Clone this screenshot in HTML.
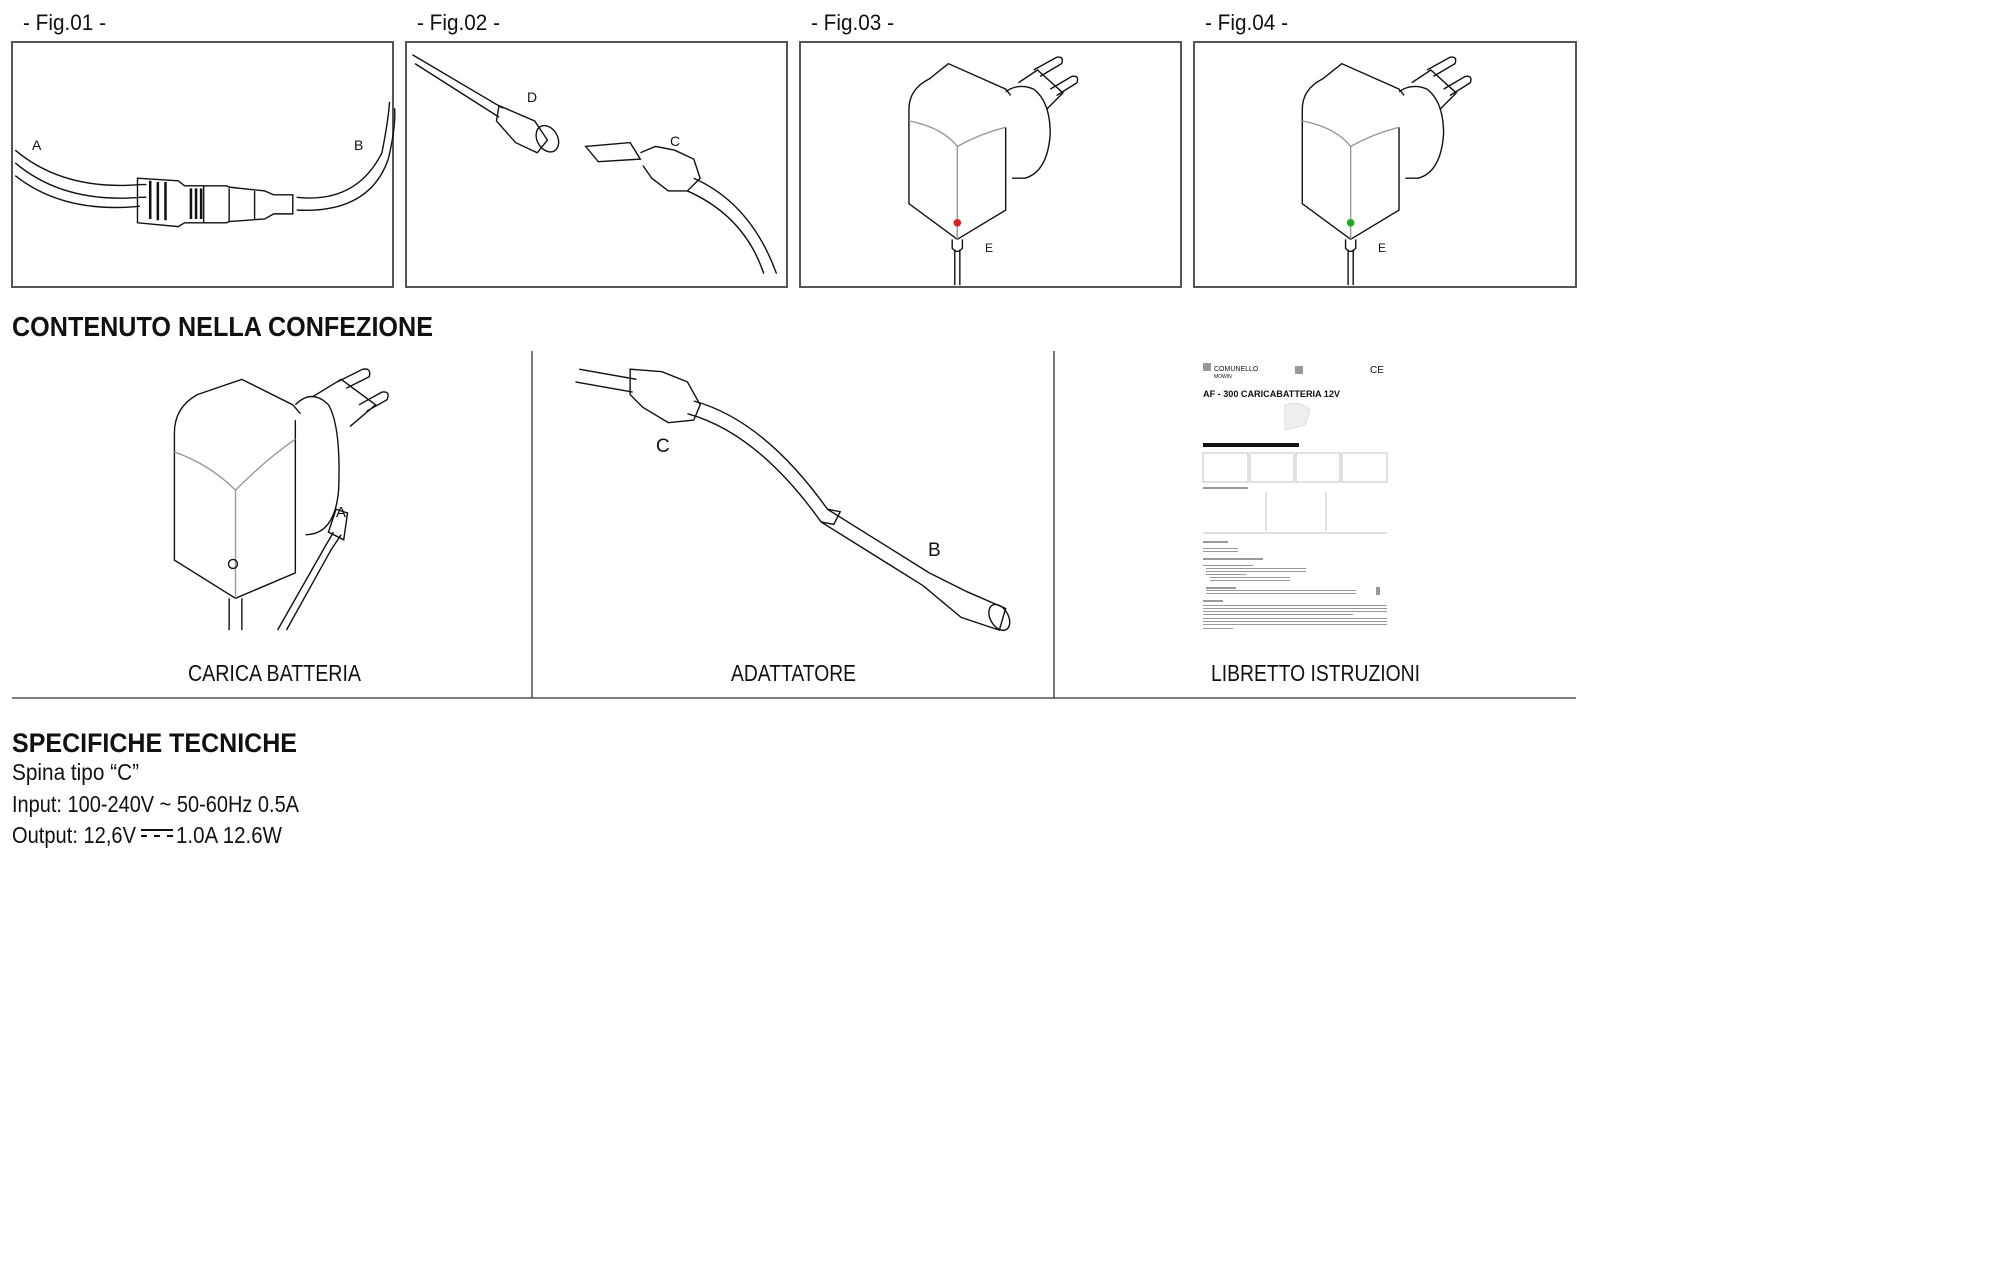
<!DOCTYPE html>
<html><head><meta charset="utf-8"><style>
html,body{margin:0;padding:0;background:#fff;width:1996px;height:1267px;overflow:hidden}
svg{display:block}
text{font-family:"Liberation Sans Narrow","Liberation Sans",sans-serif;fill:#111}
</style></head><body>
<svg width="1996" height="1267" viewBox="0 0 1996 1267" xmlns="http://www.w3.org/2000/svg">
<text x="23" y="30" font-size="22" textLength="83" lengthAdjust="spacingAndGlyphs">- Fig.01 -</text>
<text x="417" y="30" font-size="22" textLength="83" lengthAdjust="spacingAndGlyphs">- Fig.02 -</text>
<text x="811" y="30" font-size="22" textLength="83" lengthAdjust="spacingAndGlyphs">- Fig.03 -</text>
<text x="1205" y="30" font-size="22" textLength="83" lengthAdjust="spacingAndGlyphs">- Fig.04 -</text>
<g fill="none" stroke="#555" stroke-width="2">
<rect x="12" y="42" width="381" height="245"/>
<rect x="406" y="42" width="381" height="245"/>
<rect x="800" y="42" width="381" height="245"/>
<rect x="1194" y="42" width="382" height="245"/>
</g>

<g transform="scale(1.273)" fill="none" stroke="#111" stroke-width="1.1">
<!-- Fig01 -->
<path d="M12,118 Q50,150 110,145 L115,145"/>
<path d="M12,128 Q50,160 110,155 L115,155"/>
<path d="M12,138 Q50,168 110,162"/>
<path d="M108,140 L140,142 L145,146 L178,146 L180,147 L208,150 L215,153 L230,153 L230,168 L215,168 L208,172 L180,174 L178,175 L145,175 L140,178 L108,175 Z"/>
<path d="M233,155 Q280,160 300,120 Q305,95 306,80"/>
<path d="M233,165 Q290,168 305,125 Q311,100 310,85"/>
<path d="M180,148 L180,174 M200,150 L200,172 M160,146 L160,175"/>
<g stroke-width="2"><path d="M118,142 L118,172 M124,143 L124,173 M130,143 L130,173 M150,148 L150,172 M154,148 L154,172 M158,148 L158,172"/></g>
<!-- Fig02 -->
<path d="M324,43 L395,85 M326,50 L392,92"/>
<path d="M392,83 L420,95 L430,110 L422,120 L405,112 L390,95 Z"/>
<ellipse cx="430" cy="109" rx="8" ry="11" transform="rotate(-30 430 109)"/>
<path d="M460,115 L495,112 L503,125 L470,127 Z"/>
<path d="M503,120 L515,115 L530,118 L545,125 L550,140 L540,150 L525,150 L512,140 L505,130"/>
<path d="M545,140 Q590,160 610,215 M540,150 Q585,170 600,215"/>
<!-- Fig03 charger -->
<g id="chg">
<path d="M714,86 Q714,70 730,62 L745,50 L790,70 L794,75"/>
<path d="M714,86 L714,160 L752,188 L790,165 L790,100"/>
<path d="M790,72 Q800,65 812,70 Q825,80 825,105 Q823,135 805,140 L795,140"/>
<path d="M800,65 L815,55 L835,73 L822,86"/>
<path d="M812,55 L830,45 Q836,44 834,50 L817,60"/>
<path d="M825,70 L842,60 Q848,59 846,65 L830,75"/>
<path d="M748,188 L748,195 Q752,200 756,195 L756,188 M750,196 L750,224 M754,196 L754,224"/>
<path stroke="#999" d="M714,95 Q740,100 752,115 L752,188 M752,115 Q770,105 790,100"/>
</g>
<circle cx="752" cy="175" r="3" fill="#d22" stroke="none"/>
<use href="#chg" transform="translate(309,0)"/>
<circle cx="1061" cy="175" r="3" fill="#2a2" stroke="none"/>
<!-- Big charger -->
<path d="M137,340 Q137,320 155,310 L190,298 L230,318 L236,325"/>
<path d="M137,340 L137,440 L185,470 L232,450 L232,330"/>
<path d="M232,318 Q245,305 258,318 Q268,335 266,385 Q263,420 240,420"/>
<path d="M245,312 L268,298 L295,318 L275,335"/>
<path d="M265,300 L285,290 Q292,289 290,296 L272,305"/>
<path d="M282,318 L300,308 Q307,307 304,314 L288,323"/>
<path d="M180,470 L180,495 M190,470 L190,495"/>
<path stroke="#999" d="M137,355 Q165,365 185,385 L185,470 M185,385 Q210,360 232,345"/>
<circle cx="183" cy="443" r="3.5"/>
<path d="M218,495 L255,430 L262,418 M225,495 L260,432 L268,420 M258,418 L264,400 L273,403 L270,424 Z"/>
<!-- Adapter -->
<path d="M455,290 L500,298 M452,300 L497,308"/>
<path d="M495,290 L520,292 L540,300 L550,318 L545,330 L525,332 L505,320 L495,310 Z"/>
<path d="M545,315 Q600,330 650,400 L730,450 M540,325 Q595,340 645,410 L725,460"/>
<path d="M650,400 L660,402 L655,412 L645,410"/>
<path d="M730,450 L760,465 L790,478 L785,495 L755,485 L725,460"/>
<ellipse cx="785" cy="485" rx="7" ry="11" transform="rotate(-30 785 485)"/>
</g>

<!-- booklet thumbnail -->
<g>
<rect x="1203" y="363" width="8" height="8" fill="#999"/>
<text x="1214" y="371" font-size="7" fill="#777">COMUNELLO</text>
<text x="1214" y="378" font-size="5" fill="#7b3">MOWIN</text>
<rect x="1295" y="366" width="8" height="8" fill="#999"/>
<text x="1370" y="373" font-size="10" fill="#333">CE</text>
<text x="1203" y="397" font-size="9" font-weight="bold" fill="#aaa" textLength="137" lengthAdjust="spacingAndGlyphs">AF - 300 CARICABATTERIA 12V</text>
<path d="M1285,405 Q1300,400 1310,410 L1305,425 L1285,430 Z" fill="#eee" stroke="#ddd"/>
<rect x="1203" y="443" width="96" height="4" fill="#111"/>
<g fill="none" stroke="#aaa" stroke-width="0.7">
<rect x="1203" y="453" width="45" height="29"/><rect x="1250" y="453" width="44" height="29"/><rect x="1296" y="453" width="44" height="29"/><rect x="1342" y="453" width="45" height="29"/>
<path d="M1266,492 L1266,531 M1326,492 L1326,531 M1203,533 L1387,533"/>
</g>
<g fill="#999">
<rect x="1203" y="487" width="45" height="2"/>
<rect x="1203" y="541" width="25" height="2"/><rect x="1203" y="548" width="35" height="1"/><rect x="1203" y="551" width="35" height="1"/>
<rect x="1203" y="558" width="60" height="2"/>
<rect x="1203" y="565" width="50" height="1"/><rect x="1206" y="568" width="100" height="1"/><rect x="1206" y="571" width="100" height="1"/><rect x="1206" y="574" width="40" height="1"/><rect x="1210" y="577" width="80" height="1"/><rect x="1210" y="580" width="80" height="1"/>
<rect x="1206" y="587" width="30" height="2"/><rect x="1206" y="590" width="150" height="1"/><rect x="1206" y="593" width="150" height="1"/>
<rect x="1376" y="587" width="4" height="8"/>
<rect x="1203" y="600" width="20" height="2"/>
<rect x="1203" y="605" width="184" height="1"/><rect x="1203" y="608" width="184" height="1"/><rect x="1203" y="611" width="184" height="1"/><rect x="1203" y="614" width="150" height="1"/><rect x="1203" y="618" width="184" height="1"/><rect x="1203" y="621" width="184" height="1"/><rect x="1203" y="624" width="184" height="1"/><rect x="1203" y="628" width="30" height="1"/>
</g>
</g>

<text x="12" y="336" font-size="28" font-weight="bold" textLength="421" lengthAdjust="spacingAndGlyphs">CONTENUTO NELLA CONFEZIONE</text>
<g stroke="#333" stroke-width="1.3">
<line x1="532" y1="351" x2="532" y2="698"/>
<line x1="1054" y1="351" x2="1054" y2="698"/>
<line x1="12" y1="698" x2="1576" y2="698"/>
</g>
<text x="188" y="681" font-size="23" textLength="173" lengthAdjust="spacingAndGlyphs">CARICA BATTERIA</text>
<text x="731" y="681" font-size="23" textLength="125" lengthAdjust="spacingAndGlyphs">ADATTATORE</text>
<text x="1211" y="681" font-size="23" textLength="209" lengthAdjust="spacingAndGlyphs">LIBRETTO ISTRUZIONI</text>

<text x="12" y="752" font-size="27" font-weight="bold" textLength="285" lengthAdjust="spacingAndGlyphs">SPECIFICHE TECNICHE</text>
<text x="12" y="780" font-size="23" textLength="127" lengthAdjust="spacingAndGlyphs">Spina tipo “C”</text>
<text x="12" y="812" font-size="23" textLength="287" lengthAdjust="spacingAndGlyphs">Input: 100-240V ~ 50-60Hz 0.5A</text>
<text x="12" y="843" font-size="23" textLength="124" lengthAdjust="spacingAndGlyphs">Output: 12,6V</text>
<rect x="141" y="829" width="32" height="2" fill="#111"/>
<rect x="141" y="835" width="6" height="2" fill="#111"/><rect x="154" y="835" width="6" height="2" fill="#111"/><rect x="167" y="835" width="6" height="2" fill="#111"/>
<text x="176" y="843" font-size="23" textLength="106" lengthAdjust="spacingAndGlyphs">1.0A 12.6W</text>

<g font-size="14">
<text x="32" y="150">A</text><text x="354" y="150">B</text>
<text x="527" y="102">D</text><text x="670" y="146">C</text>
<text x="985" y="252" font-size="12">E</text><text x="1378" y="252" font-size="12">E</text>
<text x="336" y="517" font-size="15">A</text>
<text x="656" y="452" font-size="19">C</text><text x="928" y="556" font-size="19">B</text>
</g>
</svg>
</body></html>
